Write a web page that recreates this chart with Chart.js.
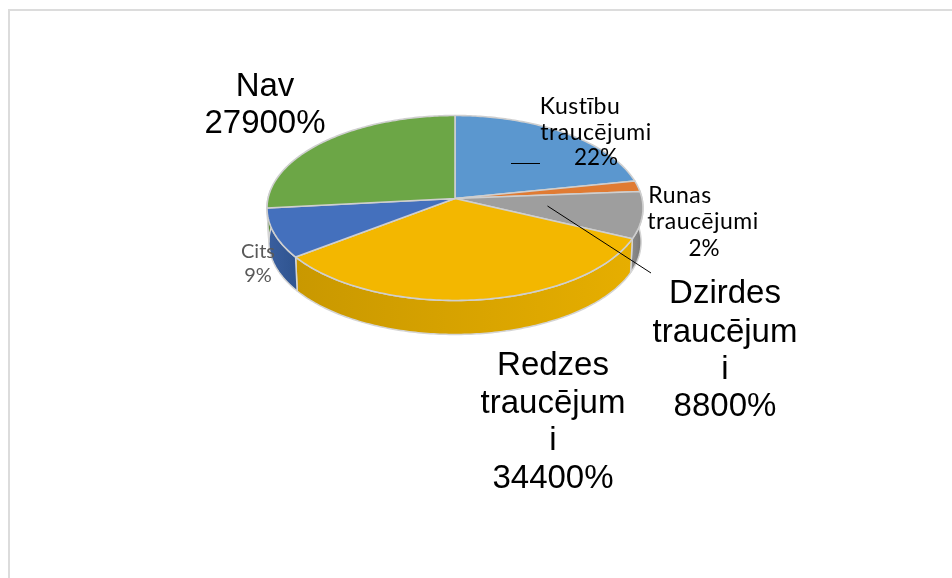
<!DOCTYPE html>
<html><head><meta charset="utf-8">
<style>html,body{margin:0;padding:0;background:#fff;overflow:hidden}
#wrap{position:relative;width:952px;height:578px}
canvas{position:absolute;left:0;top:0;filter:blur(0.4px)}
#frame{position:absolute;left:8px;top:9px;right:0;bottom:0;border-left:2px solid #dcdcdc;border-top:2px solid #dcdcdc}
</style>
<script src="https://cdn.jsdelivr.net/npm/chart.js@4"></script>
</head><body><div id="wrap"><canvas id="c" width="952" height="578"></canvas><div id="frame"></div></div>
<script>
const categories = ['Kustību traucējumi','Runas traucējumi','Dzirdes traucējumi','Redzes traucējumi','Cits','Nav'];
const values = [22.9, 2, 8.5, 34.4, 9, 27.9];
const valueLabels = ['22%','2%','8800%','34400%','9%','27900%'];
const topColors = ['#5b97cf','#e07b33','#9e9e9e','#f3b700','#4470bd','#6ca646'];
const wallShades = [['#4a7cab','#4a7cab'],['#b8652a','#b8652a'],['#8a8a8a','#7a7a7a'],['#c99800','#e6ae00'],['#3a5f9f','#2f5490'],['#5a8a3a','#5a8a3a']];

const G = {cx:455, ay:198.5, R:187, K:91.5, p:0.1027, depth:34, rimScale:0.99};
function proj(a){
  const u=Math.cos(a), v=-Math.sin(a), w=1+G.p*v;
  return [G.cx+G.R*u/w, G.ay-G.K*v/w];
}
function arcPath(ctx,a0,a1,depth,move){
  const n=Math.max(4,Math.ceil(Math.abs(a1-a0)/0.015));
  const s=depth?G.rimScale:1;
  for(let i=0;i<=n;i++){
    const p=proj(a0+(a1-a0)*i/n);
    const x=G.cx+(p[0]-G.cx)*s;
    if(i===0&&move) ctx.moveTo(x,p[1]+depth); else ctx.lineTo(x,p[1]+depth);
  }
}
const pie3d={
  id:'pie3d',
  beforeDatasetsDraw(chart){
    const ctx=chart.ctx, arcs=chart.getDatasetMeta(0).data;
    ctx.save(); ctx.lineJoin='round';
    const wMin=-0.10, wMax=Math.PI+0.10;
    arcs.forEach((el,i)=>{
      const a0=Math.max(el.startAngle,wMin), a1=Math.min(el.endAngle,wMax);
      if(a1<=a0) return;
      const pa=proj(a0), pb=proj(a1);
      ctx.beginPath();
      arcPath(ctx,a0,a1,0,true);
      arcPath(ctx,a1,a0,G.depth,false);
      ctx.closePath();
      const g=ctx.createLinearGradient(Math.min(pa[0],pb[0]),0,Math.max(pa[0],pb[0]),0);
      g.addColorStop(0,pb[0]<pa[0]?wallShades[i][0]:wallShades[i][1]);
      g.addColorStop(1,pb[0]<pa[0]?wallShades[i][1]:wallShades[i][0]);
      ctx.fillStyle=g; ctx.fill();
      ctx.strokeStyle='#d4d4d4'; ctx.lineWidth=1.5; ctx.stroke();
    });
    arcs.forEach((el,i)=>{
      ctx.beginPath();
      ctx.moveTo(G.cx,G.ay);
      arcPath(ctx,el.startAngle,el.endAngle,0,false);
      ctx.closePath();
      ctx.fillStyle=topColors[i]; ctx.fill();
      ctx.strokeStyle='#cfcfcf'; ctx.lineWidth=1.6; ctx.stroke();
    });
    ctx.restore();
    return false;
  },
  afterDraw(chart){
    const ctx=chart.ctx;
    ctx.save();
    ctx.strokeStyle='#000'; ctx.lineWidth=1;
    ctx.beginPath();
    ctx.moveTo(511,163.5); ctx.lineTo(540,163.5);
    ctx.moveTo(547.5,206); ctx.lineTo(651,273);
    ctx.stroke();
    ctx.textAlign='center'; ctx.textBaseline='middle';
    const small='23px Lato', val='22.5px Lato', cits='20px Lato', big='33px "Liberation Sans"';
    const put=(t,x,y,f,c,ls)=>{ctx.font=f;ctx.letterSpacing=ls||'0px';ctx.fillStyle=c||'#000';ctx.fillText(t,x,y);};
    const w=s=>s.split(' ');
    let p=w(categories[0]);
    put(p[0],580,107,small,'#000','0.5px'); put(p[1],596,133,small,'#000','0.5px'); put(valueLabels[0],596,158,val);
    p=w(categories[1]);
    put(p[0],680,196,small,'#000','0.5px'); put(p[1],703,222,small,'#000','0.5px'); put(valueLabels[1],704,249,val);
    p=w(categories[2]);
    put(p[0],725,294,big); put(p[1].slice(0,-1),725,333,big); put(p[1].slice(-1),725,370,big); put(valueLabels[2],725,407,big);
    p=w(categories[3]);
    put(p[0],553,366,big); put(p[1].slice(0,-1),553,404,big); put(p[1].slice(-1),553,441,big); put(valueLabels[3],553,479,big);
    put(categories[4],258,252,cits,'#595959'); put(valueLabels[4],258,276,cits,'#595959');
    put(categories[5],265,87,big); put(valueLabels[5],265,124,big);
    ctx.restore();
  }
};
new Chart(document.getElementById('c'),{
  type:'pie',
  data:{labels:categories,datasets:[{data:values,backgroundColor:topColors}]},
  options:{responsive:false,animation:false,events:[],
    plugins:{legend:{display:false},tooltip:{enabled:false},title:{display:false}}},
  plugins:[pie3d]
});
</script></body></html>
